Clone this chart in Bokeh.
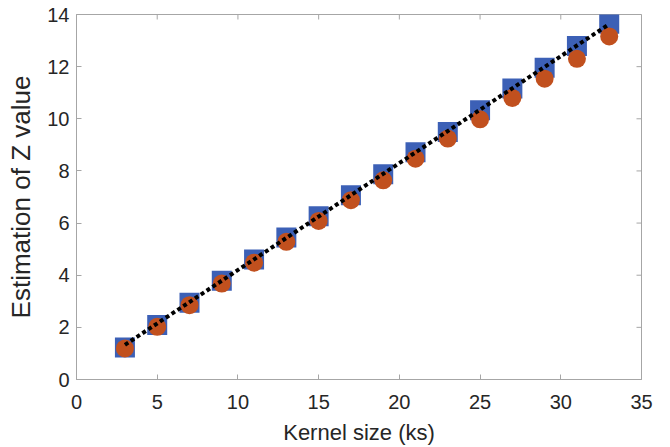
import math
from bokeh.plotting import figure
from bokeh.models import Range1d, FixedTicker
from bokeh.embed import file_html
from bokeh.resources import INLINE

# Data
kernel_size = [3, 5, 7, 9, 11, 13, 15, 17, 19, 21, 23, 25, 27, 29, 31, 33]
z_square = [1.23, 2.09, 2.94, 3.79, 4.60, 5.45, 6.26, 7.07, 7.87, 8.72, 9.49, 10.33, 11.16, 11.96, 12.79, 13.65]
z_circle = [1.19, 2.02, 2.85, 3.68, 4.48, 5.28, 6.08, 6.88, 7.64, 8.47, 9.24, 9.98, 10.80, 11.54, 12.30, 13.16]
fit_x = [3, 33]
fit_y = [1.33, 13.63]
x_ticks = [0, 5, 10, 15, 20, 25, 30, 35]
y_ticks = [0, 2, 4, 6, 8, 10, 12, 14]
x_lim = (0, 35)
y_lim = (0, 14)

FONT = "Liberation Sans"
AXIS_GRAY = "#a6a6a6"
TEXT = "#262626"

p = figure(width=670, height=447, output_backend="svg", toolbar_location=None,
           x_range=Range1d(*x_lim), y_range=Range1d(*y_lim),
           min_border_left=76, min_border_right=29, min_border_top=14, min_border_bottom=67)

p.xgrid.visible = False
p.ygrid.visible = False
p.outline_line_color = AXIS_GRAY
p.outline_line_width = 1
p.background_fill_color = "white"
p.border_fill_color = "white"

p.scatter(kernel_size, z_square, marker="square", size=20, fill_color="#3c60b6", line_color=None)
p.scatter(kernel_size, z_circle, marker="circle", size=18, fill_color="#c1501e", line_color=None)
p.line(fit_x, fit_y, line_color="black", line_width=4, line_dash="4 3")

# inward ticks on the top and right edges of the box (MATLAB style)
p.ray(x=x_ticks, y=[y_lim[1]] * len(x_ticks), length=5, angle=-math.pi / 2,
      length_units="screen", line_color=AXIS_GRAY, line_width=1)
p.ray(x=[x_lim[1]] * len(y_ticks), y=y_ticks, length=5, angle=math.pi,
      length_units="screen", line_color=AXIS_GRAY, line_width=1)

def style_axis(ax, ticks):
    ax.ticker = FixedTicker(ticks=ticks)
    ax.axis_line_color = AXIS_GRAY
    ax.major_tick_line_color = AXIS_GRAY
    ax.major_tick_in = 5
    ax.major_tick_out = 0
    ax.minor_tick_line_color = None
    ax.major_label_text_font = FONT
    ax.major_label_text_font_size = "20px"
    ax.major_label_text_color = TEXT
    ax.axis_label_text_font = FONT
    ax.axis_label_text_font_style = "normal"
    ax.axis_label_text_color = TEXT

xa = p.xaxis[0]
style_axis(xa, x_ticks)
xa.axis_label = "Kernel size (ks)"
xa.axis_label_text_font_size = "22px"
xa.major_label_standoff = 15
xa.axis_label_standoff = 8

ya = p.yaxis[0]
style_axis(ya, y_ticks)
ya.axis_label = "Estimation of Z value"
ya.axis_label_text_font_size = "26px"
ya.major_label_standoff = 7
ya.axis_label_standoff = 8

open("out.html", "w").write(file_html(p, INLINE))
